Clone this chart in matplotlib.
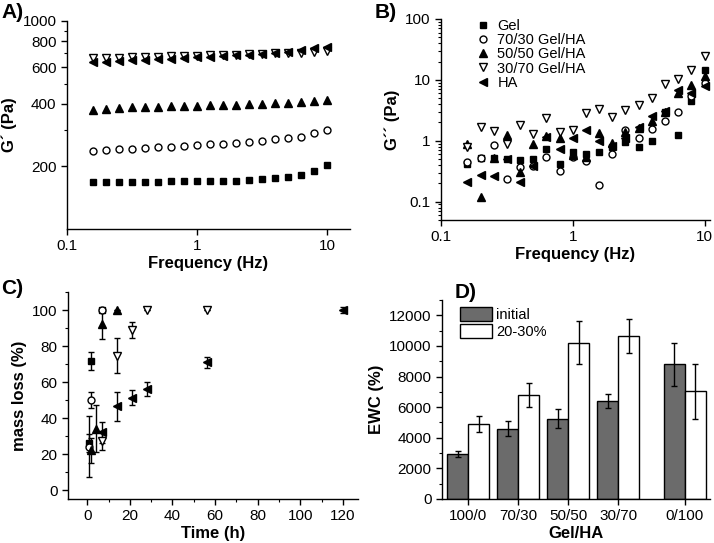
import matplotlib
matplotlib.use("Agg")
import matplotlib.pyplot as plt
import numpy as np
from matplotlib.ticker import FixedLocator, NullFormatter, MultipleLocator, LogLocator

plt.rcParams['font.family'] = ['Liberation Sans', 'DejaVu Sans']
plt.rcParams['font.size'] = 10

# ---------------- data ----------------
freq = [0.158, 0.2, 0.251, 0.316, 0.398, 0.501, 0.631, 0.794, 1.0, 1.26, 1.58,
        2.0, 2.51, 3.16, 3.98, 5.01, 6.31, 7.94, 10.0]
series_names = ['Gel', '70/30 Gel/HA', '50/50 Gel/HA', '30/70 Gel/HA', 'HA']

# Panel A: storage modulus G'
gp_gel = [168, 168, 169, 169, 169, 169, 170, 170, 170, 171, 171, 171, 172, 174, 175, 178, 182, 191, 202]
gp_7030 = [238, 240, 242, 243, 245, 247, 249, 251, 253, 255, 257, 259, 262, 265, 270, 275, 277, 289, 298]
gp_5050 = [374, 379, 381, 384, 386, 388, 389, 391, 391, 393, 394, 396, 397, 399, 402, 403, 408, 412, 418]
gp_3070 = [662, 665, 667, 670, 672, 675, 677, 680, 682, 685, 687, 690, 693, 695, 698, 700, 705, 713, 716]
gp_ha = [634, 638, 643, 648, 650, 655, 660, 665, 670, 675, 680, 685, 690, 695, 700, 713, 729, 740, 754]

# Panel B: loss modulus G''
gpp_gel = [0.42, 0.53, 0.53, 0.51, 0.49, 0.51, 0.72, 0.42, 0.66, 0.60, 0.65, 0.78, 0.95, 0.79, 1.0, 3.0, 1.26, 4.45, 14.8]
gpp_7030 = [0.44, 0.53, 0.84, 0.24, 0.37, 0.38, 0.55, 0.32, 0.55, 0.46, 0.19, 0.60, 1.52, 1.13, 1.58, 2.14, 2.97, 5.4, 8.9]
gpp_5050 = [0.88, 0.12, 0.53, 1.26, 0.31, 0.88, 1.2, 1.13, 0.58, 0.55, 1.34, 0.92, 1.39, 1.6, 2.08, 3.0, 6.0, 8.4, 11.5]
gpp_3070 = [0.80, 1.66, 1.43, 0.88, 1.84, 1.30, 2.35, 1.37, 1.50, 2.86, 3.30, 2.47, 3.16, 3.92, 5.05, 8.6, 10.5, 14.4, 24.6]
gpp_ha = [0.21, 0.275, 0.265, 0.50, 0.21, 0.38, 1.15, 0.72, 1.11, 1.50, 0.99, 0.81, 1.13, 1.66, 2.52, 3.1, 6.9, 6.1, 7.9]

# Panel C: mass loss vs time
t_gel = [1, 2, 7];            ml_gel = [26, 71.5, 100];            er_gel = [5, 5, 0]
t_7030 = [1, 2, 7];           ml_7030 = [24, 50, 100];             er_7030 = [17, 4.5, 0]
t_5050 = [2, 4, 7, 14];       ml_5050 = [22, 34, 92, 100];         er_5050 = [7, 13, 8, 0]
t_3070 = [7, 14, 21, 28, 56]; ml_3070 = [27, 74.5, 89, 100, 100];  er_3070 = [5, 9.7, 4.4, 0, 0]
t_ha = [7, 14, 21, 28, 56, 120]; ml_ha = [32, 46.5, 51.3, 56, 71, 100]; er_ha = [6, 8, 4.2, 4, 3, 1.5]

# Panel D: EWC
ewc_cats = ['100/0', '70/30', '50/50', '30/70', '0/100']
ewc_initial = [2930, 4590, 5250, 6380, 8790]
ewc_initial_err = [180, 500, 620, 450, 1380]
ewc_2030 = [4900, 6820, 10210, 10640, 7040]
ewc_2030_err = [550, 790, 1400, 1100, 1800]
legend_d = ['initial', '20-30%']

# ---------------- style ----------------
markers = ['s', 'o', '^', 'v', '<']
filled = [True, False, True, False, True]
msizes = [5, 5, 6, 6, 6]

fig = plt.figure(figsize=(7.14, 5.43), dpi=100)

def style_axes(ax):
    ax.spines['top'].set_visible(False)
    ax.spines['right'].set_visible(False)
    for s in ['left', 'bottom']:
        ax.spines[s].set_linewidth(1.0)
    ax.tick_params(which='major', direction='out', length=4, width=1.0, labelsize=11)
    ax.tick_params(which='minor', direction='out', length=2.5, width=0.8)

def mk_kw(i):
    return dict(marker=markers[i], linestyle='none', markersize=msizes[i],
                markerfacecolor='black' if filled[i] else 'white',
                markeredgecolor='black', markeredgewidth=1.0)

label_kw = dict(fontsize=12, fontweight='bold')
gfmt = matplotlib.ticker.FuncFormatter(lambda v, p: f"{v:g}")

# ---- Panel A ----
axA = fig.add_axes([67/714, 1-229/543, (350-67)/714, (229-21)/543])
for i, ys in enumerate([gp_gel, gp_7030, gp_5050, gp_3070, gp_ha]):
    axA.plot(freq, ys, **mk_kw(i))
axA.set_xscale('log'); axA.set_yscale('log')
axA.set_xlim(0.1, 15); axA.set_ylim(100, 1000)
axA.yaxis.set_major_locator(FixedLocator([200, 400, 600, 800, 1000]))
axA.yaxis.set_minor_locator(FixedLocator([300, 500, 700, 900]))
axA.yaxis.set_major_formatter(gfmt)
axA.yaxis.set_minor_formatter(NullFormatter())
axA.xaxis.set_major_locator(FixedLocator([0.1, 1, 10]))
axA.xaxis.set_minor_locator(FixedLocator([]))
axA.xaxis.set_major_formatter(gfmt)
style_axes(axA)
axA.set_xlabel('Frequency (Hz)', labelpad=2, **label_kw)
axA.set_ylabel('G´ (Pa)', labelpad=4, **label_kw)

# ---- Panel B ----
axB = fig.add_axes([441/714, 1-220/543, (710-441)/714, (220-19)/543])
for i, ys in enumerate([gpp_gel, gpp_7030, gpp_5050, gpp_3070, gpp_ha]):
    axB.plot(freq, ys, label=series_names[i], **mk_kw(i))
axB.set_xscale('log'); axB.set_yscale('log')
axB.set_xlim(0.1, 11); axB.set_ylim(0.05, 100)
axB.yaxis.set_major_locator(FixedLocator([0.1, 1, 10, 100]))
axB.yaxis.set_minor_locator(LogLocator(base=10, subs=np.arange(2, 10)))
axB.yaxis.set_major_formatter(gfmt)
axB.yaxis.set_minor_formatter(NullFormatter())
axB.xaxis.set_major_locator(FixedLocator([0.1, 1, 10]))
axB.xaxis.set_minor_locator(FixedLocator([]))
axB.xaxis.set_major_formatter(gfmt)
style_axes(axB)
axB.set_xlabel('Frequency (Hz)', labelpad=2, **label_kw)
axB.set_ylabel('G´´ (Pa)', labelpad=4, **label_kw)
axB.legend(loc='upper left', bbox_to_anchor=(0.09, 1.045), frameon=False, fontsize=10.5,
           handletextpad=0.4, labelspacing=0.02, borderaxespad=0.2, handlelength=1.2)

# ---- Panel C ----
axC = fig.add_axes([68/714, 1-499/543, (358-68)/714, (499-292)/543])
for i, (t, m, e) in enumerate([(t_gel, ml_gel, er_gel), (t_7030, ml_7030, er_7030),
                               (t_5050, ml_5050, er_5050), (t_3070, ml_3070, er_3070),
                               (t_ha, ml_ha, er_ha)]):
    axC.errorbar(t, m, yerr=e, ecolor='black', elinewidth=1.0, capsize=2.5, capthick=1.0, **mk_kw(i))
axC.set_xlim(-9, 127); axC.set_ylim(-5, 110)
axC.xaxis.set_major_locator(MultipleLocator(20)); axC.xaxis.set_minor_locator(MultipleLocator(10))
axC.yaxis.set_major_locator(MultipleLocator(20)); axC.yaxis.set_minor_locator(MultipleLocator(10))
style_axes(axC)
axC.set_xlabel('Time (h)', labelpad=2, **label_kw)
axC.set_ylabel('mass loss (%)', labelpad=4, **label_kw)

# ---- Panel D ----
axD = fig.add_axes([442/714, 1-499/543, (710-442)/714, (499-300)/543])
pos = np.array([0, 1, 2, 3, 4.33])
w = 0.42
axD.bar(pos - w/2, ewc_initial, width=w, color='#6b6b6b', edgecolor='black', linewidth=1.0,
        yerr=ewc_initial_err, capsize=2.5, error_kw=dict(elinewidth=1.0, capthick=1.0), label=legend_d[0])
axD.bar(pos + w/2, ewc_2030, width=w, color='white', edgecolor='black', linewidth=1.0,
        yerr=ewc_2030_err, capsize=2.5, error_kw=dict(elinewidth=1.0, capthick=1.0), label=legend_d[1])
axD.set_xlim(-0.52, 4.83); axD.set_ylim(0, 13000)
axD.set_xticks(pos); axD.set_xticklabels(ewc_cats)
axD.yaxis.set_major_locator(MultipleLocator(2000)); axD.yaxis.set_minor_locator(MultipleLocator(1000))
style_axes(axD)
axD.set_xlabel('Gel/HA', labelpad=2, **label_kw)
axD.set_ylabel('EWC (%)', labelpad=4, **label_kw)
axD.legend(loc='upper left', bbox_to_anchor=(0.04, 1.0), frameon=False, fontsize=10.5,
           handlelength=2.2, handleheight=1.1, labelspacing=0.12, handletextpad=0.3, borderaxespad=0.1)

# panel labels
for lab, x, y in [('A)', 1, 3, ), ('B)', 375, 3), ('C)', 1, 279), ('D)', 455, 283)]:
    fig.text(x/714, 1-y/543, lab, fontsize=15, fontweight='bold', ha='left', va='top')

fig.savefig('out.png', dpi=100)
